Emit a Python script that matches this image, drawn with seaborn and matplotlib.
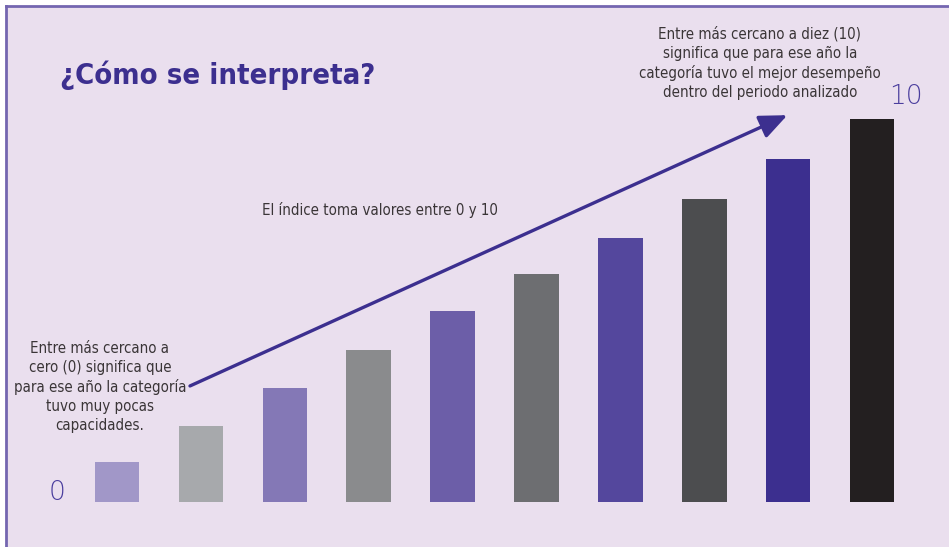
import pandas as pd
import matplotlib.pyplot as plt
import seaborn as sns

# bar heights (index from 1 to 10)
categories = ["1", "2", "3", "4", "5", "6", "7", "8", "9", "10"]
values = [1.04, 1.98, 2.98, 3.97, 4.99, 5.95, 6.89, 7.91, 8.96, 10.0]
bar_colors = ["#A197C8", "#A7A9AC", "#8478B6", "#8A8B8D", "#6C5EA8",
              "#6D6E71", "#54479D", "#4C4D4F", "#3C2F8F", "#231F20"]

title = "¿Cómo se interpreta?"
note_high = ("Entre más cercano a diez (10)\nsignifica que para ese año la\n"
             "categoría tuvo el mejor desempeño\ndentro del periodo analizado")
note_low = ("Entre más cercano a\ncero (0) significa que\npara ese año la categoría\n"
            "tuvo muy pocas\ncapacidades.")
note_mid = "El índice toma valores entre 0 y 10"

BG = "#EADFEE"
PURPLE = "#3C2F8F"
TEXT = "#3A3537"

df = pd.DataFrame({"cat": categories, "val": values})

sns.set_theme(style="white")
plt.rcParams['font.family'] = ['DejaVu Sans']

W, H = 949, 547
fig = plt.figure(figsize=(W / 100, H / 100), dpi=100, facecolor="white")
# axes fills the frame, starting 6px from the top/left edges
ax = fig.add_axes([6 / W, 0, (W - 6) / W, (H - 6) / H])
ax.set_facecolor(BG)

sns.barplot(data=df, x="cat", y="val", hue="cat", palette=bar_colors,
            legend=False, width=0.53, saturation=1, linewidth=0, ax=ax)

# map categories onto pixel layout
px_per_cat = 83.9
px_per_val = 38.3
ax_w, ax_h = W - 6, H - 6
left_off = 117 - 6
bottom_off = 45
ax.set_xlim(-left_off / px_per_cat, (ax_w - left_off) / px_per_cat)
ax.set_ylim(-bottom_off / px_per_val, (ax_h - bottom_off) / px_per_val)
ax.set_xticks([])
ax.set_yticks([])
ax.set_xlabel("")
ax.set_ylabel("")
for side in ["right", "bottom"]:
    ax.spines[side].set_visible(False)
for side in ["top", "left"]:
    ax.spines[side].set_color("#7466B0")
    ax.spines[side].set_linewidth(2)

# arrow across the bars
ax.annotate("", xy=(7.99, 10.1), xytext=(0.87, 3.03),
            arrowprops=dict(arrowstyle="-|>,head_length=1.4,head_width=0.6",
                            color=PURPLE, lw=2.4, shrinkA=0, shrinkB=0))

fig.text(60 / W, 1 - 75 / H, title, color=PURPLE, fontsize=21,
         fontweight="bold", fontstretch="condensed", ha="left", va="center")

cond = dict(fontstretch="condensed", color=TEXT, ha="center", va="center",
            linespacing=1.32)
fig.text(760 / W, 1 - 63 / H, note_high, fontsize=10.8, **cond)
fig.text(100 / W, 1 - 387 / H, note_low, fontsize=10.8, **cond)
fig.text(380 / W, 1 - 210 / H, note_mid, fontsize=10.8, **cond)

fig.text(906 / W, 1 - 96 / H, "10", color="#4B3E9E", fontsize=19,
         ha="center", va="center", fontweight="light")
fig.text(57 / W, 1 - 493 / H, "0", color="#4B3E9E", fontsize=19,
         ha="center", va="center", fontweight="light")

fig.savefig("out.png", dpi=100, facecolor="white")
